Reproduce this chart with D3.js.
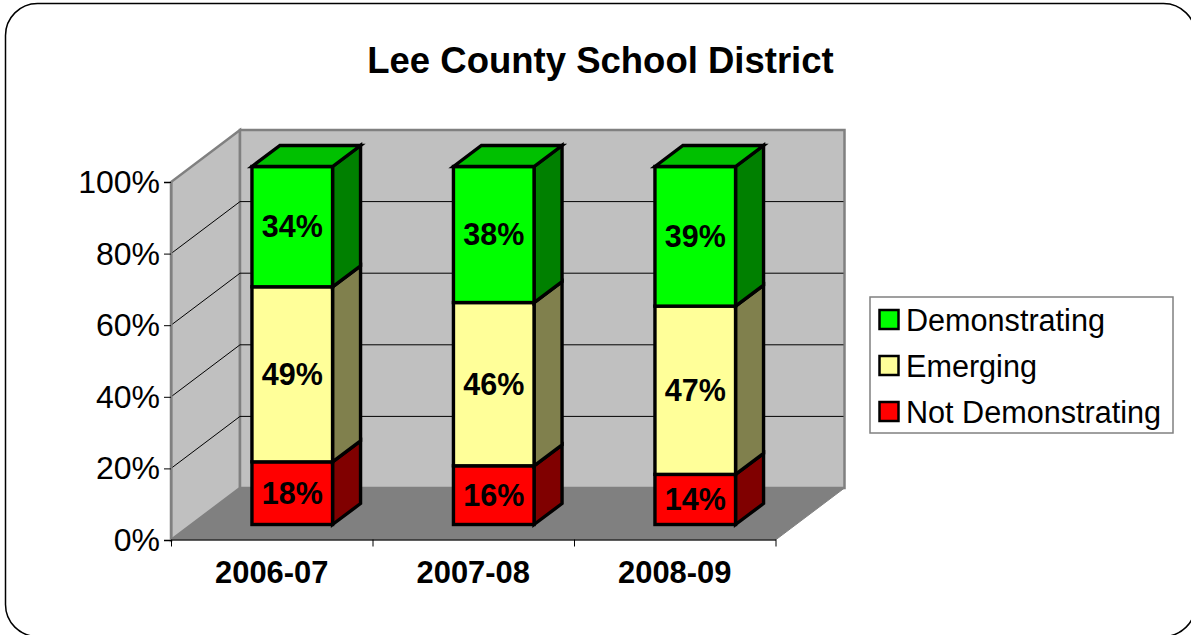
<!DOCTYPE html>
<html lang="en">
<head>
    <meta charset="UTF-8">
    <title>Lee County School District</title>
    <script src="https://d3js.org/d3.v7.min.js"></script>
    <style>
        html, body { margin: 0; padding: 0; background: #fff; overflow: hidden; }
        text { font-family: "Liberation Sans", Arial, sans-serif; fill: #000; }
    </style>
</head>
<body>
    <div id="my_dataviz"></div>

    <script>
        const years = ["2006-07", "2007-08", "2008-09"];
        const notDemonstrating = [17.5, 16.4, 14];
        const emerging = [48.9, 45.6, 47];
        const demonstrating = [33.6, 38, 39];
        const yTicks = [0, 20, 40, 60, 80, 100];
        const seriesNames = ["Not Demonstrating", "Emerging", "Demonstrating"];
        const legendOrder = ["Demonstrating", "Emerging", "Not Demonstrating"];

        const front = {"Not Demonstrating": "#ff0000", "Emerging": "#ffff99", "Demonstrating": "#00ff00"};
        const side = {"Not Demonstrating": "#800000", "Emerging": "#80804d", "Demonstrating": "#008000"};
        const topFace = "#00c000";

        const width = 1191, height = 635;
        const svg = d3.select("#my_dataviz")
            .append("svg")
            .attr("width", width)
            .attr("height", height)
            .style("display", "block");

        // rounded frame, runs slightly off the bottom right of the window
        svg.append("rect")
            .attr("x", 5.5).attr("y", 3.5)
            .attr("width", 1190).attr("height", 633)
            .attr("rx", 32).attr("ry", 32)
            .attr("fill", "#fff")
            .attr("stroke", "#000")
            .attr("stroke-width", 1.5);

        svg.append("text")
            .attr("x", 600.5).attr("y", 73)
            .attr("text-anchor", "middle")
            .attr("font-size", 36.5)
            .attr("font-weight", "bold")
            .text("Lee County School District");

        const left = 171, right = 775.5, bottom = 540, topY = 182;
        const wallDx = 69, wallDy = -52;   // depth of the box
        const barDx = 28, barDy = -21;     // depth of one bar

        const x = d3.scaleBand().domain(years).range([left, right]).paddingInner(0.6).paddingOuter(0.3);
        const y = d3.scaleLinear().domain([0, 100]).range([bottom, topY]);
        const edges = d3.scaleLinear().domain([0, 3]).range([left, right]);

        const poly = pts => pts.map(p => p.join(",")).join(" ");

        // walls and floor
        const chart = svg.append("g");
        chart.append("polygon")
            .attr("points", poly([[left, y(0)], [left + wallDx, y(0) + wallDy], [left + wallDx, y(100) + wallDy], [left, y(100)]]))
            .attr("fill", "#c0c0c0").attr("stroke", "#808080").attr("stroke-width", 2.5);
        chart.append("polygon")
            .attr("points", poly([[left + wallDx, y(0) + wallDy], [right + wallDx, y(0) + wallDy], [right + wallDx, y(100) + wallDy], [left + wallDx, y(100) + wallDy]]))
            .attr("fill", "#c0c0c0").attr("stroke", "#808080").attr("stroke-width", 2.5);

        // gridlines, bent at the back corner
        chart.selectAll("polyline.grid")
            .data(yTicks.filter(d => d > 0 && d < 100))
            .join("polyline")
            .attr("class", "grid")
            .attr("points", d => poly([[left, y(d)], [left + wallDx, y(d) + wallDy], [right + wallDx - 1, y(d) + wallDy]]))
            .attr("fill", "none").attr("stroke", "#000").attr("stroke-width", 1);

        chart.append("polygon")
            .attr("points", poly([[left, y(0)], [left + wallDx, y(0) + wallDy], [right + wallDx, y(0) + wallDy], [right, y(0)]]))
            .attr("fill", "#808080").attr("stroke", "#808080").attr("stroke-width", 1);

        // stacked bars
        const stackData = years.map((yr, i) => ({
            year: yr,
            "Not Demonstrating": notDemonstrating[i],
            "Emerging": emerging[i],
            "Demonstrating": demonstrating[i]
        }));
        const stacked = d3.stack().keys(seriesNames)(stackData);

        // bars stand in the middle of the box depth
        const offX = (wallDx - barDx) / 2, offY = (wallDy - barDy) / 2;
        const barsG = chart.append("g")
            .attr("transform", `translate(${offX},${offY})`)
            .attr("stroke", "#000").attr("stroke-width", 3.4).attr("stroke-linejoin", "miter");

        stacked.forEach(layer => {
            layer.forEach(d => {
                const x0 = x(d.data.year), x1 = x0 + x.bandwidth();
                const y0 = y(d[0]), y1 = y(d[1]);
                barsG.append("polygon")
                    .attr("points", poly([[x1, y0], [x1 + barDx, y0 + barDy], [x1 + barDx, y1 + barDy], [x1, y1]]))
                    .attr("fill", side[layer.key]);
                barsG.append("rect")
                    .attr("x", x0).attr("y", y1)
                    .attr("width", x.bandwidth()).attr("height", y0 - y1)
                    .attr("fill", front[layer.key]);
                if (layer.key === "Demonstrating") {
                    barsG.append("polygon")
                        .attr("points", poly([[x0, y1], [x0 + barDx, y1 + barDy], [x1 + barDx, y1 + barDy], [x1, y1]]))
                        .attr("fill", topFace);
                }
            });
        });

        // value labels
        stacked.forEach(layer => {
            chart.selectAll(null)
                .data(layer)
                .join("text")
                .attr("x", d => x(d.data.year) + x.bandwidth() / 2 + offX)
                .attr("y", d => y((d[0] + d[1]) / 2) + offY + 10.5)
                .attr("text-anchor", "middle")
                .attr("font-size", 30.5)
                .attr("font-weight", "bold")
                .text(d => Math.round(d[1] - d[0]) + "%");
        });

        // axes
        const yAxis = svg.append("g")
            .attr("transform", `translate(${left},0)`)
            .call(d3.axisLeft(y).tickValues(yTicks).tickFormat(d => d + "%").tickSize(7).tickPadding(4));
        yAxis.select(".domain").attr("stroke", "#808080").attr("stroke-width", 2);
        yAxis.selectAll("text").attr("font-size", 32).attr("font-family", null).attr("dy", "0.33em");
        yAxis.selectAll("line").attr("stroke", "#000");

        const xEdges = svg.append("g")
            .attr("transform", `translate(0,${bottom - 0.5})`)
            .call(d3.axisBottom(edges).tickValues([0, 1, 2, 3]).tickFormat("").tickSize(7).tickSizeOuter(0));
        xEdges.select(".domain").attr("stroke", "#000");

        const xLabels = svg.append("g")
            .attr("transform", `translate(0,${bottom})`)
            .call(d3.axisBottom(d3.scaleBand().domain(years).range([left, right])).tickSize(0).tickPadding(21));
        xLabels.select(".domain").remove();
        xLabels.selectAll("text").attr("font-size", 30.9).attr("font-weight", "bold").attr("font-family", null);

        // legend
        const legend = svg.append("g");
        legend.append("rect")
            .attr("x", 870).attr("y", 297)
            .attr("width", 303).attr("height", 136)
            .attr("fill", "#fff").attr("stroke", "#808080").attr("stroke-width", 1.5);
        const rowY = d3.scalePoint().domain(legendOrder).range([320, 412]);
        legendOrder.forEach(name => {
            legend.append("rect")
                .attr("x", 879.5).attr("y", rowY(name) - 10)
                .attr("width", 19).attr("height", 19)
                .attr("fill", front[name]).attr("stroke", "#000").attr("stroke-width", 2.5);
            legend.append("text")
                .attr("x", 906).attr("y", rowY(name) + 11)
                .attr("font-size", 30.6)
                .text(name);
        });
    </script>
</body>
</html>
